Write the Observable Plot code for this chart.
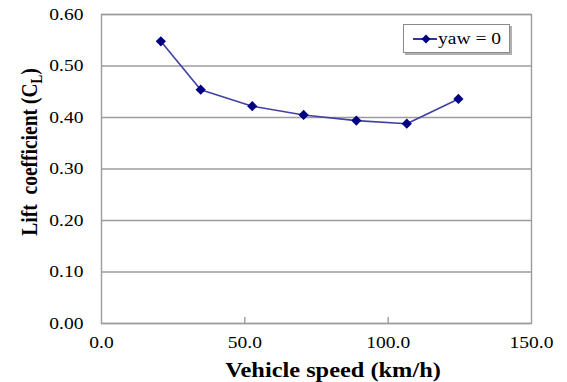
<!DOCTYPE html>
<html>
<head>
<meta charset="utf-8">
<style>
  body { margin: 0; background: #fff; }
  #wrap { position: relative; width: 567px; height: 382px; font-family: "Liberation Serif", serif; }
  .legend {
    position: absolute; left: 403px; top: 24px; width: 105px; height: 27px;
    border: 1px solid #8a8a8a; box-shadow: 2px 2px 0 #b0b0b0; background: #fff;
    display: flex; align-items: center; font-size: 16px; color: #000;
  }
  .legend svg { margin-left: 9px; margin-right: 1px; }
  .legend span { display: inline-block; transform: scaleX(1.22); transform-origin: left center; }
</style>
<script src="https://cdn.jsdelivr.net/npm/d3@7"></script>
<script src="https://cdn.jsdelivr.net/npm/@observablehq/plot@0.6"></script>
</head>
<body>
<div id="wrap">
  <div class="legend">
    <svg width="24" height="12"><line x1="0" y1="6" x2="24" y2="6" stroke="#000080" stroke-width="1.6"/><path d="M13,1.5 L17.5,6 L13,10.5 L8.5,6 Z" fill="#000080"/></svg><span id="legend-label"></span>
  </div>
</div>
<script>
// Lift coefficient vs. vehicle speed, yaw angle 0
const speed = [20.7, 34.6, 52.6, 70.5, 88.9, 106.5, 124.5];
const lift  = [0.548, 0.454, 0.422, 0.405, 0.394, 0.388, 0.436];
const xTicks = [0, 50, 100, 150];
const yTicks = [0, 0.1, 0.2, 0.3, 0.4, 0.5, 0.6];
const seriesName = "yaw = 0";

const data = speed.map((s, i) => ({speed: s, cl: lift[i]}));

const lineColor = "#4040a4";
const markColor = "#000080";
const gridColor = "#9c9c9c";
const widen = 1.22; // glyphs are drawn a little wider than tall

const chart = Plot.plot({
  width: 567,
  height: 382,
  marginLeft: 101,
  marginRight: 36,
  marginTop: 14,
  marginBottom: 59,
  style: {fontFamily: "Liberation Serif", fontSize: "16px", color: "#000", background: "#fff"},
  x: {domain: [0, 150], label: null},
  y: {domain: [0, 0.6], label: null},
  marks: [
    Plot.gridY(yTicks, {stroke: gridColor, strokeOpacity: 1, strokeWidth: 1.4}),
    Plot.frame({stroke: gridColor, strokeWidth: 1.4}),
    Plot.axisY({ticks: yTicks, tickSize: 0, tickPadding: 18, tickFormat: d3.format(".2f")}),
    Plot.axisX({ticks: xTicks, tickSize: 0, tickPadding: 13, tickFormat: d3.format(".1f")}),
    Plot.axisX({ticks: xTicks.slice(1, -1), tickSize: -6, stroke: gridColor, strokeWidth: 1.4, tickFormat: () => ""}),
    Plot.line(data, {x: "speed", y: "cl", stroke: lineColor, strokeWidth: 1.6}),
    Plot.dot(data, {x: "speed", y: "cl", symbol: "diamond2", r: 4.6, fill: markColor, stroke: "none"})
  ]
});

const svg = d3.select(chart);

// Axis titles
const xTitle = svg.append("text")
  .attr("x", 333).attr("y", 377)
  .attr("text-anchor", "middle")
  .attr("font-family", "Liberation Serif")
  .attr("font-weight", "bold").attr("font-size", 21)
  .attr("fill", "#000")
  .text("Vehicle speed (km/h)");

const yTitle = svg.append("text")
  .attr("transform", `translate(37,152) scale(${widen},1) rotate(-90)`)
  .attr("text-anchor", "middle")
  .attr("font-family", "Liberation Serif")
  .attr("font-weight", "bold").attr("font-size", 19.5)
  .attr("fill", "#000");
yTitle.append("tspan").text("Lift\u00a0\u00a0coefficient (C");
yTitle.append("tspan").attr("font-size", 13).attr("dy", 4).text("L");
yTitle.append("tspan").attr("dy", -4).text(")");

const wrap = document.getElementById("wrap");
wrap.insertBefore(chart, wrap.firstChild);
document.getElementById("legend-label").textContent = seriesName;

// Widen the horizontal texts once they are laid out
svg.selectAll('g[aria-label="x-axis tick label"] text, g[aria-label="y-axis tick label"] text')
  .each(function () {
    const len = this.getComputedTextLength();
    if (len > 0) {
      this.setAttribute("textLength", len * widen);
      this.setAttribute("lengthAdjust", "spacingAndGlyphs");
    }
  });
{
  const node = xTitle.node();
  xTitle.attr("textLength", node.getComputedTextLength() * 1.16).attr("lengthAdjust", "spacingAndGlyphs");
}
</script>
</body>
</html>
